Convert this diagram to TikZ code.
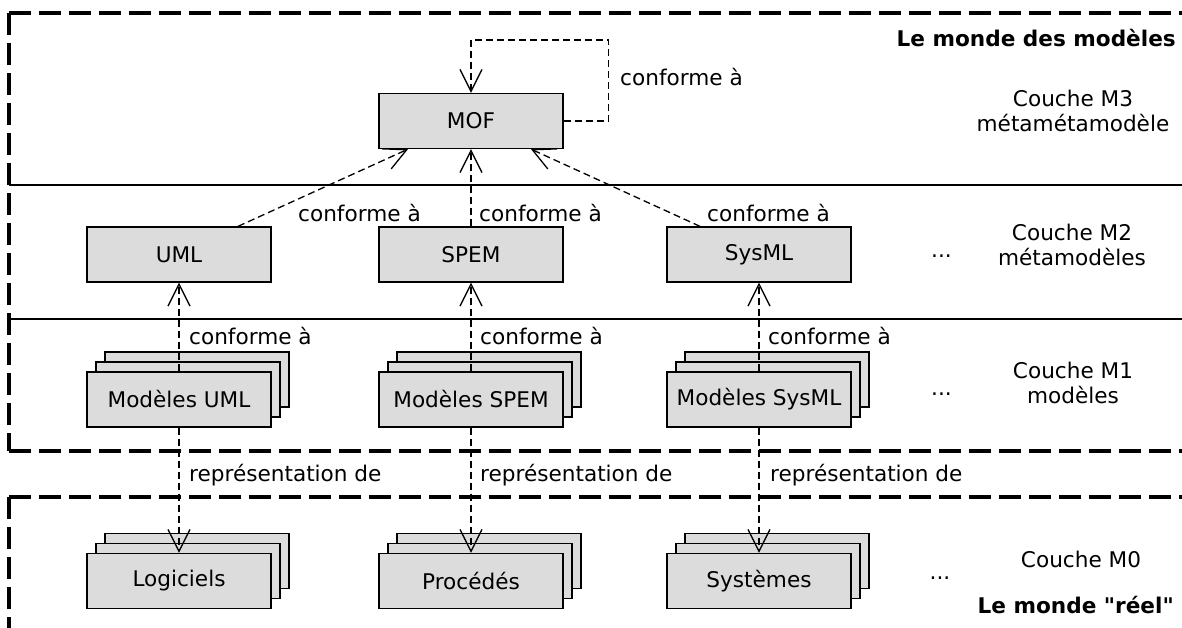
\documentclass[tikz,border=0pt]{standalone}
\usepackage{fontspec}
\setmainfont{DejaVu Sans}
\usetikzlibrary{arrows.meta}
\definecolor{boxgray}{RGB}{220,220,220}

\begin{document}
\begin{tikzpicture}[
  x=1pt, y=-1pt,
  every node/.style={font=\fontsize{21.6}{25}\selectfont},
  box/.style={draw, line width=1.3pt, fill=boxgray, minimum width=184pt, minimum height=55pt, inner sep=0pt},
  conf/.style={line width=1.3pt, dash pattern=on 7pt off 4pt, -{Straight Barb[length=22pt,width=22pt,line width=1.3pt]}},
  lbl/.style={inner sep=0pt, anchor=base west},
  layer/.style={align=center, inner sep=0pt},
  world/.style={line width=3.5pt, dash pattern=on 22pt off 8pt},
  sep/.style={line width=1.3pt}
]
\useasboundingbox (0,0) rectangle (1182,628);
\clip (0,0) rectangle (1182,628);

% couches
\draw[sep] (9,185) -- (1182,185);
\draw[sep] (9,319) -- (1182,319);
\draw[world] (9,13) -- (1200,13);
\draw[world] (9,13) -- (9,451);
\draw[world] (9,451) -- (1200,451);
\draw[world] (9,497) -- (1200,497);
\draw[world] (9,497) -- (9,640);

% M3 et M2
\node[box] (MOF) at (471,121) {MOF};
\node[box] (UML)   at (179,254.5) {UML};
\node[box] (SPEM)  at (471,254.5) {SPEM};
\node[box] (SysML) at (759,254.5) {SysML};

% M1 et M0 : piles
\foreach \nm/\x/\y/\txt in {mUML/179/399.5/Modèles UML, mSPEM/471/399.5/Modèles SPEM,
    mSysML/759/399.5/Modèles SysML, Log/179/581/Logiciels, Proc/471/581/Procédés, Sys/759/581/Systèmes} {
  \node[box] (\nm-2) at (\x+18,\y-20) {};
  \node[box] (\nm-1) at (\x+9,\y-10) {};
  \node[box] (\nm) at (\x,\y) {\txt};
}

% conforme a
\draw[conf] (MOF.east) -- ++(45,0) -- ++(0,-81) -| (MOF.north);
\draw[conf] ([xshift=59pt]UML.north) -- ([xshift=-63pt]MOF.south);
\draw[conf] (SPEM) -- (MOF);
\draw[conf] ([xshift=-59pt]SysML.north) -- ([xshift=60pt]MOF.south);
\draw[conf] (mUML) -- (UML);
\draw[conf] (mSPEM) -- (SPEM);
\draw[conf] (mSysML) -- (SysML);

% representation de
\draw[conf] (mUML) -- (Log);
\draw[conf] (mSPEM) -- (Proc);
\draw[conf] (mSysML) -- (Sys);

\node[lbl] (c3)  at (620,85.5) {conforme à};
\node[lbl] (c2a) at (298,221.5) {conforme à};
\node[lbl] (c2b) at (479,221.5) {conforme à};
\node[lbl] (c2c) at (707,221.5) {conforme à};
\node[lbl] (c1a) at (189,344) {conforme à};
\node[lbl] (c1b) at (480,344) {conforme à};
\node[lbl] (c1c) at (768,344) {conforme à};
\node[lbl] (r0a) at (189,481.5) {représentation de};
\node[lbl] (r0b) at (480,481.5) {représentation de};
\node[lbl] (r0c) at (770,481.5) {représentation de};

% legendes des couches
\node[layer] (M3) at (1073,111) {Couche M3\\métamétamodèle};
\node[layer] (M2) at (1072,245) {Couche M2\\métamodèles};
\node[layer] (M1) at (1073,383) {Couche M1\\modèles};
\node[layer] (M0) at (1081,559) {Couche M0};
\node[inner sep=0pt, anchor=base] (d2) at (941.5,257) {...};
\node[inner sep=0pt, anchor=base] (d1) at (941.5,395) {...};
\node[inner sep=0pt, anchor=base] (d0) at (940,579) {...};
\node[inner sep=0pt, anchor=base east] (wm) at (1176,47) {\bfseries Le monde des modèles};
\node[inner sep=0pt, anchor=base east] (wr) at (1174,613) {\bfseries Le monde \textquotedbl réel\textquotedbl};
\end{tikzpicture}
\end{document}
